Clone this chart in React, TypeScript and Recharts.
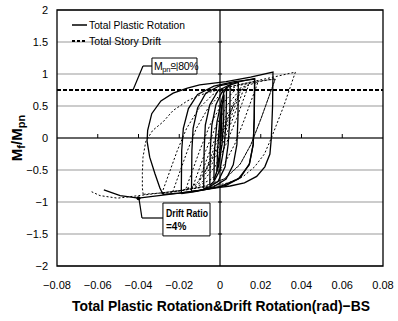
import {
  LineChart,
  Line,
  XAxis,
  YAxis,
  CartesianGrid,
  ReferenceLine,
  ReferenceArea,
  ReferenceDot,
} from "recharts";

// tick values
const xTicks = [-0.08, -0.06, -0.04, -0.02, 0, 0.02, 0.04, 0.06, 0.08];
const yTicks = [-2, -1.5, -1, -0.5, 0, 0.5, 1, 1.5, 2];
const innerXTicks = [-0.06, -0.04, -0.02, 0.02, 0.04, 0.06];
const innerYTicks = [-1.5, -1, -0.5, 0.5, 1, 1.5];

// Mpn 80% level and the 4% drift point
const mpn80 = 0.75;
const driftMarker = { x: -0.04, y: -0.94 };

// Total Plastic Rotation, one array per cycle: [rotation, Mf/Mpn]
const plasticCycle1 = [[0, 0], [0.0005, 0.3], [0.001, 0.52], [0.0008, 0.2], [0.0002, -0.15], [-0.001, -0.4], [-0.0015, -0.52]];
const plasticCycle2 = [[-0.0015, -0.52], [-0.0012, -0.2], [-0.0002, 0.25], [0.0012, 0.55], [0.002, 0.68], [0.0018, 0.3], [0.001, -0.1], [-0.0008, -0.45], [-0.003, -0.66]];
const plasticCycle3 = [[-0.003, -0.66], [-0.0027, -0.2], [-0.0015, 0.25], [0.0005, 0.55], [0.002, 0.72], [0.0032, 0.78], [0.003, 0.3], [0.0022, -0.1], [0, -0.5], [-0.003, -0.68], [-0.005, -0.74]];
const plasticCycle4 = [[-0.005, -0.74], [-0.0048, -0.2], [-0.004, 0.2], [-0.002, 0.52], [0.001, 0.72], [0.005, 0.83], [0.0048, 0.3], [0.004, -0.1], [0.0025, -0.45], [-0.001, -0.68], [-0.005, -0.76], [-0.008, -0.79]];
const plasticCycle5 = [[-0.008, -0.79], [-0.0078, -0.2], [-0.0072, 0.2], [-0.005, 0.52], [-0.001, 0.74], [0.004, 0.82], [0.009, 0.87], [0.0088, 0.3], [0.0083, -0.1], [0.0065, -0.42], [0.003, -0.64], [-0.003, -0.76], [-0.009, -0.81], [-0.014, -0.84]];
const plasticCycle6 = [[-0.014, -0.84], [-0.0138, -0.2], [-0.0132, 0.15], [-0.011, 0.47], [-0.007, 0.7], [0, 0.82], [0.008, 0.87], [0.017, 0.93], [0.0168, 0.3], [0.0163, -0.1], [0.0145, -0.4], [0.01, -0.62], [0.003, -0.74], [-0.006, -0.8], [-0.013, -0.84], [-0.019, -0.87]];
const plasticCycle7 = [[-0.019, -0.87], [-0.0188, -0.2], [-0.018, 0.15], [-0.0155, 0.46], [-0.011, 0.68], [-0.003, 0.81], [0.007, 0.88], [0.017, 0.92], [0.0168, 0.3], [0.0163, -0.1], [0.0143, -0.42], [0.009, -0.64], [0, -0.76], [-0.01, -0.82], [-0.02, -0.86], [-0.028, -0.88]];
const plasticCycle8 = [[-0.028, -0.88], [-0.0295, -0.78], [-0.032, -0.55], [-0.0345, -0.3], [-0.0358, -0.05], [-0.0355, 0.12], [-0.0335, 0.38], [-0.029, 0.58], [-0.023, 0.7], [-0.016, 0.78], [-0.01, 0.83], [0.003, 0.88], [0.015, 0.95], [0.026, 1.03], [0.0258, 0.5], [0.0252, 0], [0.0245, -0.25], [0.022, -0.45], [0.018, -0.6], [0.012, -0.7], [0.005, -0.75], [0, -0.77], [-0.01, -0.82], [-0.02, -0.86], [-0.03, -0.9], [-0.04, -0.94], [-0.049, -0.9], [-0.057, -0.81]];

// Total Story Drift
const driftCycle1 = [[0, 0], [0.0038, 0.3], [0.0067, 0.52], [0.003, 0.2], [-0.0015, -0.15], [-0.0054, -0.4], [-0.0072, -0.52]];
const driftCycle2 = [[-0.0072, -0.52], [-0.0034, -0.2], [0.0026, 0.25], [0.0073, 0.55], [0.0095, 0.68], [0.0051, 0.3], [0, -0.1], [-0.0058, -0.45], [-0.0103, -0.66]];
const driftCycle3 = [[-0.0103, -0.66], [-0.0049, -0.2], [0.0013, 0.25], [0.0066, 0.55], [0.0099, 0.72], [0.0118, 0.78], [0.0063, 0.3], [0.0011, -0.1], [-0.0055, -0.5], [-0.0105, -0.68], [-0.0131, -0.74]];
const driftCycle4 = [[-0.0131, -0.74], [-0.007, -0.2], [-0.0018, 0.2], [0.0037, 0.52], [0.0089, 0.72], [0.0141, 0.83], [0.0081, 0.3], [0.0029, -0.1], [-0.0025, -0.45], [-0.0085, -0.68], [-0.0134, -0.76], [-0.0167, -0.79]];
const driftCycle5 = [[-0.0167, -0.79], [-0.01, -0.2], [-0.005, 0.2], [0.0007, 0.52], [0.0071, 0.74], [0.013, 0.82], [0.0186, 0.87], [0.0121, 0.3], [0.0072, -0.1], [0.0019, -0.42], [-0.004, -0.64], [-0.0114, -0.76], [-0.0179, -0.81], [-0.0232, -0.84]];
const driftCycle6 = [[-0.0232, -0.84], [-0.016, -0.2], [-0.0116, 0.15], [-0.0058, 0.47], [0.0007, 0.7], [0.009, 0.82], [0.0176, 0.87], [0.0272, 0.93], [0.0201, 0.3], [0.0152, -0.1], [0.0101, -0.4], [0.0032, -0.62], [-0.0051, -0.74], [-0.0148, -0.8], [-0.0222, -0.84], [-0.0286, -0.87]];
const driftCycle7 = [[-0.0286, -0.87], [-0.021, -0.2], [-0.0164, 0.15], [-0.0104, 0.46], [-0.0035, 0.68], [0.0059, 0.81], [0.0167, 0.88], [0.0271, 0.92], [0.0201, 0.3], [0.0152, -0.1], [0.0097, -0.42], [0.002, -0.64], [-0.0084, -0.76], [-0.019, -0.82], [-0.0295, -0.86], [-0.0377, -0.88]];
const driftCycle8 = [[-0.0377, -0.88], [-0.0381, -0.78], [-0.0381, -0.55], [-0.0378, -0.3], [-0.0364, -0.05], [-0.033, 0.12], [-0.028, 0.25], [-0.023, 0.43], [-0.016, 0.58], [-0.01, 0.67], [0, 0.76], [0.013, 0.86], [0.026, 0.95], [0.037, 1.03], [0.0313, 0.5], [0.0252, 0], [0.0218, -0.25], [0.017, -0.45], [0.0114, -0.6], [0.0043, -0.7], [-0.0033, -0.75], [-0.0085, -0.77], [-0.019, -0.82], [-0.0295, -0.86], [-0.0399, -0.9], [-0.0503, -0.94], [-0.0589, -0.9], [-0.063, -0.84]];

const plasticCycles = [plasticCycle1, plasticCycle2, plasticCycle3, plasticCycle4, plasticCycle5, plasticCycle6, plasticCycle7, plasticCycle8];
const driftCycles = [driftCycle1, driftCycle2, driftCycle3, driftCycle4, driftCycle5, driftCycle6, driftCycle7, driftCycle8];

const toPoints = (c: number[][]) => c.map(([x, y]) => ({ x, y }));
const fmt = (v: number) => (v < 0 ? "\u2212" + Math.abs(v) : String(v));

const FONT = "'Liberation Sans', Arial, sans-serif";
const tickStyle = { fontSize: 11, fill: "#000", fontFamily: FONT };

const App = () => {
  return (
    <div style={{ position: "absolute", left: 0, top: 0, width: 398, height: 321, background: "#fff" }}>
      <LineChart width={398} height={321} margin={{ top: 10, right: 15, bottom: 0, left: 0 }}>
        <CartesianGrid vertical={false} stroke="#999" />
        <XAxis
          type="number"
          dataKey="x"
          domain={[-0.08, 0.08]}
          ticks={xTicks}
          interval={0}
          allowDataOverflow
          axisLine={false}
          tickLine={false}
          tickSize={6}
          tickMargin={9}
          height={55}
          tickFormatter={fmt}
          tick={tickStyle}
        />
        <YAxis
          type="number"
          dataKey="y"
          domain={[-2, 2]}
          ticks={yTicks}
          interval={0}
          allowDataOverflow
          axisLine={false}
          tickLine={false}
          tickMargin={3}
          width={57}
          tickFormatter={fmt}
          tick={tickStyle}
        />
        <ReferenceArea x1={-0.08} x2={0.08} y1={-2} y2={2} fill="none" stroke="#000" strokeWidth={1.3} />
        <ReferenceLine x={0} stroke="#000" strokeWidth={1.2} />
        <ReferenceLine y={0} stroke="#000" strokeWidth={1.2} />
        {innerXTicks.map((t) => (
          <ReferenceLine key={"xt" + t} segment={[{ x: t, y: 0 }, { x: t, y: 0.0625 }]} stroke="#000" />
        ))}
        {innerYTicks.map((t) => (
          <ReferenceLine key={"yt" + t} segment={[{ x: -0.001, y: t }, { x: 0.001, y: t }]} stroke="#000" />
        ))}
        <ReferenceLine y={mpn80} stroke="#000" strokeWidth={2} strokeDasharray="4 2" />

        {driftCycles.map((c, i) => (
          <Line
            key={"d" + i}
            data={toPoints(c)}
            dataKey="y"
            type="linear"
            stroke="#000"
            strokeWidth={1}
            strokeDasharray="2 2"
            dot={false}
            isAnimationActive={false}
          />
        ))}
        {plasticCycles.map((c, i) => (
          <Line
            key={"p" + i}
            data={toPoints(c)}
            dataKey="y"
            type="linear"
            stroke="#000"
            strokeWidth={1.3}
            dot={false}
            isAnimationActive={false}
          />
        ))}
        <ReferenceDot x={driftMarker.x} y={driftMarker.y} r={2} fill="#000" stroke="none" />

        {/* annotation boxes and leaders */}
        <ReferenceLine segment={[{ x: -0.0334, y: 1.125 }, { x: -0.0378, y: 1.125 }]} stroke="#000" strokeWidth={1.2} />
        <ReferenceLine segment={[{ x: -0.0378, y: 1.125 }, { x: -0.0427, y: 0.75 }]} stroke="#000" strokeWidth={1.2} />
        <ReferenceArea x1={-0.0334} x2={-0.0113} y1={1.0} y2={1.25} fill="#fff" fillOpacity={1} stroke="#000" />
        <ReferenceLine segment={[{ x: -0.0398, y: -0.94 }, { x: -0.0383, y: -1.25 }]} stroke="#000" strokeWidth={1.2} />
        <ReferenceLine segment={[{ x: -0.0383, y: -1.25 }, { x: -0.028, y: -1.25 }]} stroke="#000" strokeWidth={1.2} />
        <ReferenceArea x1={-0.028} x2={-0.0049} y1={-1.53} y2={-1.016} fill="#fff" fillOpacity={1} stroke="#000" />
      </LineChart>

      <svg
        width={398}
        height={321}
        style={{ position: "absolute", left: 0, top: 0, pointerEvents: "none" }}
        fontFamily={FONT}
      >
        {/* legend */}
        <line x1={72} y1={25} x2={87} y2={25} stroke="#000" strokeWidth={1.5} />
        <text x={89} y={29} fontSize={11} textLength={96} lengthAdjust="spacingAndGlyphs">
          Total Plastic Rotation
        </text>
        <line x1={72} y1={41} x2={87} y2={41} stroke="#000" strokeWidth={2.2} strokeDasharray="3 2" />
        <text x={89} y={45} fontSize={11} textLength={72} lengthAdjust="spacingAndGlyphs">
          Total Story Drift
        </text>

        {/* annotation texts */}
        <text x={154} y={70} fontSize={10.5} letterSpacing={-0.4}>
          M<tspan fontSize={7.5} dy={2}>pn</tspan>
          <tspan dy={-2} fontFamily="'Noto Sans CJK KR', sans-serif" fontSize={9.5}>의</tspan>
          <tspan>80%</tspan>
        </text>
        <text x={166} y={217} fontSize={10} fontWeight="bold" textLength={42} lengthAdjust="spacingAndGlyphs">
          Drift Ratio
        </text>
        <text x={166} y={230} fontSize={10} fontWeight="bold">
          =4%
        </text>

        {/* axis titles */}
        <text
          x={22}
          y={138}
          transform="rotate(-90 22 138)"
          textAnchor="middle"
          fontSize={15}
          fontWeight="bold"
        >
          M<tspan fontSize={11} dy={3}>f</tspan>
          <tspan dy={-3}>/M</tspan>
          <tspan fontSize={11} dy={3}>pn</tspan>
        </text>
        <text
          x={221}
          y={311}
          textAnchor="middle"
          fontSize={15}
          fontWeight="bold"
          textLength={298}
          lengthAdjust="spacingAndGlyphs"
        >
          Total Plastic Rotation&amp;Drift Rotation(rad)−BS
        </text>
      </svg>
    </div>
  );
};

export default App;
